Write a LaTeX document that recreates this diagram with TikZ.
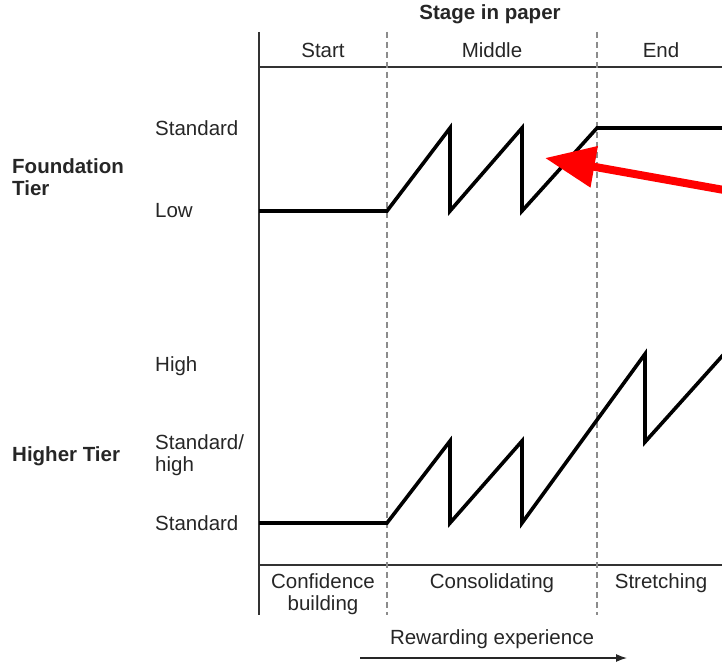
\documentclass[tikz,border=0pt]{standalone}
\usepackage{fontspec}
\setmainfont{Liberation Sans}
\usetikzlibrary{arrows.meta}
\begin{document}
\begin{tikzpicture}[x=1pt,y=-1pt,
  txt/.style={font=\fontsize{20.5}{22}\selectfont, text=black!85, inner sep=0pt},
  btxt/.style={txt, font=\fontsize{20.5}{22}\selectfont\bfseries},
  axis/.style={line width=1.5pt, black!80},
  divider/.style={line width=1.4pt, black!45, dash pattern=on 6pt off 4pt},
  level/.style={line width=3.6pt, black, line join=miter, miter limit=10},
  pointer/.style={line width=8pt, red, -{Triangle[length=50pt,width=40pt]}},
  flow/.style={line width=1.3pt, black!85, -{Latex[length=11pt,width=8pt]}}]
\useasboundingbox (0,0) rectangle (722,663);
% axes
\coordinate (axTop) at (259,32);
\coordinate (axBot) at (259,615);
\coordinate (hTopL) at (259,67);
\coordinate (hTopR) at (722,67);
\coordinate (hBotL) at (259,565);
\coordinate (hBotR) at (722,565);
\draw[axis] (axTop) -- (axBot);
\draw[axis] (hTopL) -- (hTopR);
\draw[axis] (hBotL) -- (hBotR);
\coordinate (d1t) at (387,32); \coordinate (d1b) at (387,615);
\coordinate (d2t) at (597,32); \coordinate (d2b) at (597,615);
\draw[divider] (d1t) -- (d1b);
\draw[divider] (d2t) -- (d2b);
% header
\node[btxt] (stage) at (490,14) {Stage in paper};
\node[txt] (start) at (323,50) {Start};
\node[txt] (middle) at (492,50) {Middle};
\node[txt] (end) at (661,50) {End};
% left labels
\node[btxt, anchor=west, align=left] (found) at (12,177) {Foundation\\Tier};
\node[btxt, anchor=west] (higher) at (12,456) {Higher Tier};
\node[txt, anchor=west] (fstd) at (155,128) {Standard};
\node[txt, anchor=west] (flow) at (155,211) {Low};
\node[txt, anchor=west] (hhigh) at (155,366) {High};
\node[txt, anchor=west, align=left] (hsh) at (155,455) {Standard/\\high};
\node[txt, anchor=west] (hstd) at (155,523) {Standard};
% foundation line
\coordinate (f0) at (259,211);
\coordinate (f1) at (387,211);
\coordinate (f2) at (450,128);
\coordinate (f3) at (450,211);
\coordinate (f4) at (522,128);
\coordinate (f5) at (522,211);
\coordinate (f6) at (597,128);
\coordinate (f7) at (722,128);
\draw[level] (f0) -- (f1) -- (f2) -- (f3) -- (f4) -- (f5) -- (f6) -- (f7);
% higher line
\coordinate (g0) at (259,523);
\coordinate (g1) at (387,523);
\coordinate (g2) at (450,441);
\coordinate (g3) at (450,523);
\coordinate (g4) at (522,441);
\coordinate (g5) at (522,523);
\coordinate (g6) at (645,354);
\coordinate (g7) at (645,442);
\coordinate (g8) at (724,354);
\draw[level] (g0) -- (g1) -- (g2) -- (g3) -- (g4) -- (g5) -- (g6) -- (g7) -- (g8);
% bottom labels
\node[txt, align=center] (conf) at (323,594) {Confidence\\building};
\node[txt] (cons) at (492,583) {Consolidating};
\node[txt] (stretch) at (661,583) {Stretching};
\node[txt] (reward) at (492,639) {Rewarding experience};
\coordinate (rwA) at (360,658);
\coordinate (rwB) at (627,658);
\draw[flow] (rwA) -- (rwB);
% red pointer
\coordinate (redA) at (724,190);
\coordinate (redB) at (545,158);
\draw[pointer] (redA) -- (redB);
\end{tikzpicture}
\end{document}
